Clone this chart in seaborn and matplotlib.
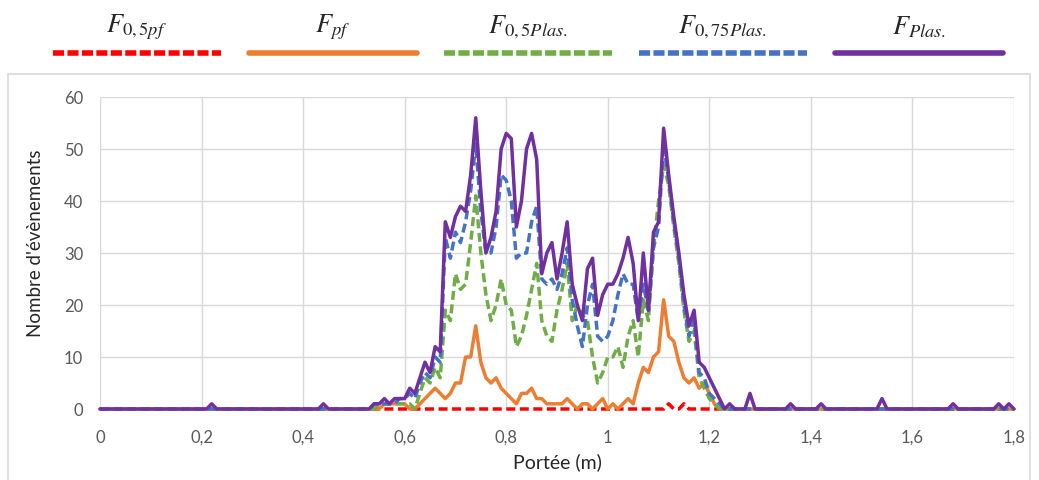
import matplotlib
matplotlib.use('Agg')
import matplotlib.pyplot as plt
from matplotlib.lines import Line2D
from matplotlib.patches import Rectangle
import seaborn as sns
import pandas as pd
import numpy as np

# portée en m, pas de 0,01 m de 0 à 1,8
portee = np.round(np.arange(181) * 0.01, 2)
seg_start = 0.53  # début de la zone active (valeurs lues de 0,53 à 1,25)

F_plas = [0, 1, 1, 2, 1, 2, 2, 2, 4, 3,
          6, 9, 7, 12, 11, 36, 33, 37, 39, 38,
          45, 56, 42, 30, 33, 38, 50, 53, 52, 35,
          40, 50, 53, 48, 26, 30, 32, 25, 30, 36,
          24, 20, 17, 27, 29, 18, 22, 24, 24, 26,
          29, 33, 28, 17, 30, 19, 34, 36, 54, 45,
          37, 30, 22, 16, 19, 9, 8, 6, 4, 2,
          0, 1, 0]
F_075plas = [0, 1, 1, 1, 1, 1, 2, 2, 3, 2,
             5, 7, 6, 10, 9, 33, 29, 34, 32, 36,
             42, 51, 38, 30, 30, 35, 45, 44, 40, 29,
             30, 30, 36, 39, 25, 24, 25, 23, 26, 31,
             21, 16, 12, 20, 24, 14, 13, 14, 17, 22,
             26, 24, 24, 17, 24, 19, 31, 35, 51, 44,
             36, 29, 20, 14, 17, 7, 6, 3, 2, 1,
             0, 0, 0]
F_05plas = [0, 0, 1, 1, 1, 1, 1, 1, 1, 0,
            3, 6, 5, 8, 6, 19, 17, 26, 23, 24,
            32, 41, 30, 22, 17, 20, 25, 20, 19, 12,
            14, 18, 23, 28, 17, 14, 13, 19, 23, 28,
            17, 20, 18, 17, 10, 5, 7, 10, 10, 12,
            8, 14, 17, 10, 21, 17, 31, 40, 47, 43,
            35, 28, 19, 13, 15, 6, 4, 2, 1, 0,
            0, 0, 0]
F_pf = [0, 0, 0, 1, 1, 1, 1, 1, 0, 0,
        1, 2, 3, 4, 3, 2, 3, 5, 5, 10,
        10, 16, 9, 6, 5, 6, 4, 3, 2, 1,
        3, 3, 4, 2, 2, 1, 1, 1, 1, 2,
        1, 0, 1, 1, 0, 1, 2, 0, 1, 0,
        1, 2, 1, 5, 8, 7, 10, 11, 21, 14,
        13, 9, 6, 5, 6, 4, 5, 3, 1, 0,
        0, 0, 0]
F_05pf_pics = {1.12: 1, 1.15: 1}
F_plas_pics = {0.22: 1, 0.44: 1, 1.28: 3, 1.36: 1, 1.42: 1,
               1.54: 2, 1.68: 1, 1.77: 1, 1.79: 1}

names = ['F05pf', 'Fpf', 'F05plas', 'F075plas', 'Fplas']
labels = [r'$F_{0,5pf}$', r'$F_{pf}$', r'$F_{0,5Plas.}$',
          r'$F_{0,75Plas.}$', r'$F_{Plas.}$']
colors = ['#ff0000', '#ed7d31', '#70ad47', '#4472c4', '#7030a0']
dashed = [True, False, True, True, False]

xtick_vals = [0, 0.2, 0.4, 0.6, 0.8, 1.0, 1.2, 1.4, 1.6, 1.8]
xtick_labels = ['0', '0,2', '0,4', '0,6', '0,8', '1', '1,2', '1,4', '1,6', '1,8']
ytick_vals = [0, 10, 20, 30, 40, 50, 60]


def full_series(segment=None, pics=None):
    y = np.zeros(len(portee))
    if segment is not None:
        i0 = int(round(seg_start * 100))
        y[i0:i0 + len(segment)] = segment
    if pics:
        for xv, v in pics.items():
            y[int(round(xv * 100))] = v
    return y


series = {
    'F05pf': full_series(pics=F_05pf_pics),
    'Fpf': full_series(F_pf),
    'F05plas': full_series(F_05plas),
    'F075plas': full_series(F_075plas),
    'Fplas': full_series(F_plas, F_plas_pics),
}
df = pd.concat([pd.DataFrame({'portee': portee, 'n': series[k], 'serie': k})
                for k in names], ignore_index=True)

sns.set_style('white')
plt.rcParams['font.family'] = ['Lato', 'DejaVu Sans']
plt.rcParams['mathtext.fontset'] = 'stix'

fig = plt.figure(figsize=(10.39, 4.8), dpi=100)
ax = fig.add_axes([100 / 1039, 71 / 480, 914 / 1039, 312 / 480])

dash_map = {k: ((2.6, 1.3) if d else '') for k, d in zip(names, dashed)}
sns.lineplot(data=df, x='portee', y='n', hue='serie', hue_order=names,
             palette=colors, style='serie', style_order=names, dashes=dash_map,
             linewidth=2.5, estimator=None, sort=False, legend=False, ax=ax)
for ln in ax.get_lines():
    ln.set_clip_on(False)
    ln.set_solid_joinstyle('round')
    ln.set_dash_joinstyle('round')

ax.set_xlim(0, 1.8)
ax.set_ylim(0, 60)
ax.set_xticks(xtick_vals)
ax.set_xticklabels(xtick_labels)
ax.set_yticks(ytick_vals)
ax.grid(True, color='#d9d9d9', linewidth=1)
ax.set_axisbelow(True)
for s in ax.spines.values():
    s.set_visible(False)
ax.tick_params(axis='both', length=0, labelsize=12, labelcolor='#595959')
ax.tick_params(axis='x', pad=15)
ax.tick_params(axis='y', pad=12)
ax.set_xlabel('Portée (m)', fontsize=14, labelpad=5)
ax.set_ylabel("Nombre d'évènements", fontsize=13.5, labelpad=6)
ax.yaxis.set_label_coords(-0.061, 0.53)

# cadre du graphique
fig.add_artist(Rectangle((8 / 1039, -0.01), 1022 / 1039, 406 / 480 + 0.01,
                         transform=fig.transFigure, fill=False,
                         edgecolor='#d9d9d9', linewidth=1.2))

# légende au-dessus : étiquette au-dessus du trait
centers = [137, 333, 528, 723, 919]
for c, lab, col, d in zip(centers, labels, colors, dashed):
    fig.add_artist(Line2D([(c - 84) / 1039, (c + 84) / 1039], [1 - 53 / 480] * 2,
                          transform=fig.transFigure, color=col, linewidth=4,
                          linestyle=(0, (2.0, 0.6)) if d else '-'))
    fig.text(c / 1039, 1 - 27 / 480, lab, ha='center', va='center', fontsize=19)

fig.savefig('out.png', dpi=100)
